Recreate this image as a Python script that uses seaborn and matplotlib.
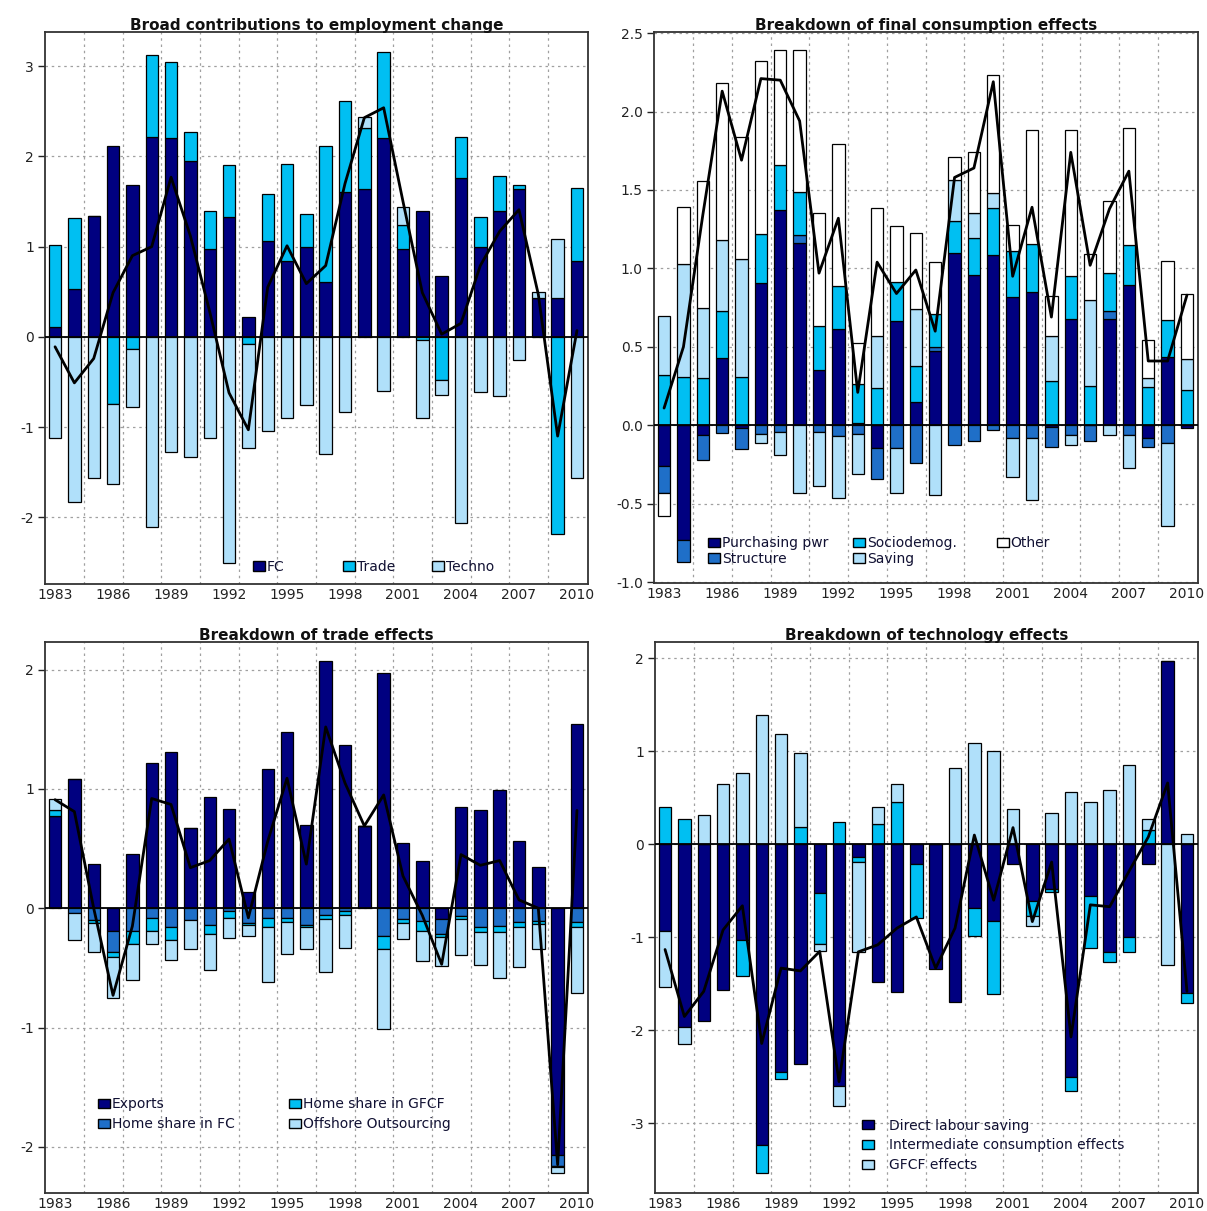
import numpy as np
import pandas as pd
import matplotlib
matplotlib.use("Agg")
import matplotlib.pyplot as plt
import seaborn as sns
from matplotlib.patches import Patch
from matplotlib.legend import Legend

# ---------------- data ----------------
years = list(range(1983, 2011))

# Panel 1: broad contributions to employment change
fc = [0.11, 0.53, 1.34, 2.12, 1.68, 2.22, 2.20, 1.95, 0.97, 1.33, 0.22, 1.06, 0.84, 1.00,
      0.61, 1.61, 1.64, 2.21, 0.97, 1.40, 0.67, 1.76, 1.00, 1.39, 1.64, 0.43, 0.43, 0.84]
trade = [0.91, 0.79, 0.00, -0.74, -0.14, 0.90, 0.85, 0.32, 0.42, 0.58, -0.08, 0.52, 1.08, 0.36,
         1.51, 1.00, 0.68, 0.95, 0.27, -0.04, -0.48, 0.46, 0.33, 0.39, 0.04, 0.00, -2.19, 0.81]
techno = [-1.12, -1.83, -1.56, -0.89, -0.64, -2.11, -1.28, -1.33, -1.12, -2.51, -1.15, -1.04, -0.90, -0.75,
          -1.30, -0.83, 0.12, -0.60, 0.20, -0.86, -0.17, -2.06, -0.61, -0.66, -0.26, 0.07, 0.66, -1.57]
total_emp = [-0.11, -0.51, -0.24, 0.49, 0.90, 1.00, 1.77, 1.12, 0.28, -0.62, -1.03, 0.55, 1.01, 0.59,
             0.79, 1.70, 2.43, 2.54, 1.50, 0.49, 0.03, 0.15, 0.79, 1.17, 1.41, 0.47, -1.10, 0.07]

# Panel 2: breakdown of final consumption effects
purch_pwr = [-0.26, -0.73, -0.06, 0.43, -0.02, 0.91, 1.37, 1.16, 0.355, 0.615, 0.015, -0.147, 0.667, 0.147,
             0.473, 1.098, 0.956, 1.086, 0.816, 0.848, -0.01, 0.68, 0.0, 0.68, 0.897, -0.078, 0.436, -0.017]
structure = [-0.17, -0.14, -0.16, -0.05, -0.13, -0.055, -0.04, 0.05, -0.04, -0.07, -0.055, -0.193, -0.147, -0.238,
             0.025, -0.127, -0.103, -0.03, -0.078, -0.078, -0.13, -0.06, -0.098, 0.05, -0.06, -0.057, -0.115, 0.0]
sociodemog = [0.32, 0.31, 0.30, 0.30, 0.31, 0.31, 0.29, 0.28, 0.28, 0.27, 0.25, 0.24, 0.247, 0.228,
              0.21, 0.203, 0.24, 0.299, 0.294, 0.306, 0.28, 0.27, 0.25, 0.24, 0.25, 0.245, 0.234, 0.228]
saving = [0.38, 0.72, 0.45, 0.45, 0.75, -0.055, -0.15, -0.43, -0.345, -0.395, -0.255, 0.33, -0.287, 0.368,
          -0.446, 0.262, 0.16, 0.093, -0.253, -0.40, 0.29, -0.067, 0.55, -0.06, -0.21, 0.056, -0.527, 0.196]
other = [-0.15, 0.36, 0.81, 1.00, 0.78, 1.10, 0.73, 0.90, 0.72, 0.91, 0.26, 0.815, 0.355, 0.485,
         0.335, 0.147, 0.385, 0.752, 0.17, 0.728, 0.254, 0.93, 0.29, 0.46, 0.748, 0.245, 0.38, 0.416]
total_fc = [0.11, 0.50, 1.34, 2.13, 1.69, 2.21, 2.20, 1.94, 0.97, 1.32, 0.21, 1.04, 0.84, 0.99,
            0.60, 1.58, 1.64, 2.19, 0.95, 1.39, 0.69, 1.74, 1.02, 1.38, 1.62, 0.41, 0.41, 0.83]

# Panel 3: breakdown of trade effects
exports = [0.77, 1.087, 0.37, -0.187, 0.458, 1.22, 1.313, 0.67, 0.929, 0.832, 0.135, 1.168, 1.477, 0.70,
           2.07, 1.371, 0.687, 1.974, 0.548, 0.397, -0.09, 0.848, 0.823, 0.99, 0.565, 0.345, -2.065, 1.548]
home_fc = [0.0, -0.042, -0.097, -0.178, -0.19, -0.08, -0.16, -0.097, -0.139, -0.023, -0.12, -0.08, -0.08, -0.139,
           -0.055, -0.026, 0.0, -0.235, -0.09, -0.106, -0.129, -0.065, -0.161, -0.152, -0.113, -0.106, -0.097, -0.119]
home_gfcf = [0.05, 0.0, -0.023, -0.045, -0.11, -0.11, -0.107, 0.0, -0.077, -0.057, -0.02, -0.08, -0.033, -0.016,
             -0.035, -0.032, 0.0, -0.104, -0.03, -0.081, -0.023, -0.025, -0.042, -0.051, -0.048, -0.023, -0.01, -0.042]
offshore = [0.10, -0.226, -0.245, -0.342, -0.303, -0.11, -0.167, -0.242, -0.30, -0.168, -0.096, -0.459, -0.267, -0.184,
            -0.442, -0.271, 0.0, -0.671, -0.138, -0.258, -0.242, -0.304, -0.271, -0.384, -0.329, -0.21, -0.046, -0.549]
total_trade = [0.91, 0.81, 0.0, -0.73, -0.15, 0.92, 0.87, 0.34, 0.40, 0.58, -0.08, 0.56, 1.09, 0.37,
               1.52, 1.05, 0.69, 0.95, 0.27, -0.06, -0.47, 0.45, 0.36, 0.40, 0.07, 0.0, -2.15, 0.82]

# Panel 4: breakdown of technology effects
direct = [-0.936, -1.959, -1.90, -1.569, -1.027, -3.226, -2.447, -2.356, -0.522, -2.592, -0.141, -1.482, -1.586, -0.211,
          -1.337, -1.694, -0.679, -0.82, -0.211, -0.605, -0.48, -2.501, -0.551, -1.155, -0.998, -0.215, 1.971, -1.598]
intermediate = [0.40, 0.277, 0.0, 0.0, -0.393, -0.306, -0.071, 0.19, -0.55, 0.244, -0.049, 0.224, 0.451, -0.58,
                0.0, 0.0, -0.306, -0.791, 0.0, -0.165, -0.033, -0.153, -0.559, -0.104, -0.157, 0.153, 0.0, -0.104]
gfcf = [-0.592, -0.19, 0.315, 0.646, 0.77, 1.391, 1.188, 0.79, -0.071, -0.215, -0.965, 0.178, 0.195, 0.0,
        0.0, 0.824, 1.085, 1.002, 0.381, -0.112, 0.335, 0.563, 0.46, 0.584, 0.857, 0.124, -1.296, 0.108]
total_tech = [-1.13, -1.85, -1.58, -0.92, -0.66, -2.14, -1.33, -1.36, -1.15, -2.55, -1.155, -1.08, -0.90, -0.78,
              -1.33, -0.90, 0.10, -0.60, 0.18, -0.83, -0.19, -2.07, -0.65, -0.67, -0.29, 0.08, 0.66, -1.58]

# ---------------- style ----------------
NAVY = "#000080"
MID = "#1f6fc8"
CYAN = "#00bff2"
LIGHT = "#b0e0fa"
WHITE = "#ffffff"

sns.set_style("white")
plt.rcParams["font.family"] = ["DejaVu Sans"]

fig = plt.figure(figsize=(12.07, 12.11), dpi=100)

W, H = 1207.0, 1211.0


def make_ax(l, r, t, b):
    return fig.add_axes([l / W, 1 - b / H, (r - l) / W, (b - t) / H])


ax1 = make_ax(45, 588, 32, 584)
ax2 = make_ax(654, 1198, 32, 583)
ax3 = make_ax(45, 588, 642, 1193)
ax4 = make_ax(655, 1198, 642, 1193)


def stacked(ax, series, colors):
    pos = np.zeros(len(years))
    neg = np.zeros(len(years))
    for vals, col in zip(series, colors):
        v = np.asarray(vals, dtype=float)
        bottom = np.where(v >= 0, pos, neg)
        df = pd.DataFrame({"year": years, "val": v})
        sns.barplot(data=df, x="year", y="val", native_scale=True, width=0.64,
                    color=col, saturation=1, edgecolor="black", linewidth=0.9,
                    errorbar=None, bottom=bottom, ax=ax, zorder=3)
        pos = pos + np.where(v > 0, v, 0)
        neg = neg + np.where(v < 0, v, 0)


def line(ax, vals):
    sns.lineplot(x=years, y=vals, color="black", linewidth=2.0, ax=ax, zorder=6)


def style(ax, title, ylim, yticks, yfmt):
    ax.set_xlim(1982.48, 2010.57)
    ax.set_ylim(*ylim)
    ax.set_xlabel("")
    ax.set_ylabel("")
    ax.set_xticks(list(range(1983, 2011, 3)))
    ax.set_xticks([y + 0.5 for y in range(1984, 2009, 2)], minor=True)
    ax.set_yticks(yticks)
    ax.set_yticklabels([yfmt.format(t) for t in yticks])
    ax.tick_params(axis="x", which="both", length=0, labelsize=10, pad=3, colors="#222222")
    ax.tick_params(axis="y", which="major", length=5, width=1, direction="out",
                   labelsize=10, pad=3, colors="#222222", left=True)
    ax.grid(False)
    ax.grid(True, axis="y", which="major", color="#a0a0a0", linestyle=(0, (2, 3)), linewidth=0.9, zorder=0)
    ax.grid(True, axis="x", which="minor", color="#a0a0a0", linestyle=(0, (2, 3)), linewidth=0.9, zorder=0)
    ax.set_axisbelow(True)
    ax.axhline(0, color="black", linewidth=1.3, zorder=5)
    for s in ax.spines.values():
        s.set_visible(True)
        s.set_color("#333333")
        s.set_linewidth(1.3)
    ax.set_title(title, fontsize=11, fontweight="bold", pad=1.5, color="#111111")


def add_leg(ax, labels, colors, x, y, spacing, textpad=0.15):
    handles = [Patch(facecolor=c, edgecolor="black", linewidth=1.0) for c in colors]
    leg = Legend(ax, handles, labels, loc="upper left", bbox_to_anchor=(x, y), frameon=False,
                 fontsize=10, handlelength=0.85, handleheight=0.65, handletextpad=textpad,
                 borderpad=0, borderaxespad=0, labelspacing=spacing)
    for t in leg.get_texts():
        t.set_color("#111133")
    ax.add_artist(leg)


# Panel 1
stacked(ax1, [fc, trade, techno], [NAVY, CYAN, LIGHT])
line(ax1, total_emp)
style(ax1, "Broad contributions to employment change", (-2.74, 3.38), [-2, -1, 0, 1, 2, 3], "{:d}")
add_leg(ax1, ["FC"], [NAVY], 0.383, 0.0435, 0.1)
add_leg(ax1, ["Trade"], [CYAN], 0.549, 0.0435, 0.1)
add_leg(ax1, ["Techno"], [LIGHT], 0.713, 0.0435, 0.1)

# Panel 2
stacked(ax2, [purch_pwr, structure, sociodemog, saving, other], [NAVY, MID, CYAN, LIGHT, WHITE])
line(ax2, total_fc)
style(ax2, "Breakdown of final consumption effects", (-1.005, 2.507),
      [-1.0, -0.5, 0.0, 0.5, 1.0, 1.5, 2.0, 2.5], "{:.1f}")
add_leg(ax2, ["Purchasing pwr", "Structure"], [NAVY, MID], 0.099, 0.085, 0.12)
add_leg(ax2, ["Sociodemog.", "Saving"], [CYAN, LIGHT], 0.366, 0.085, 0.12)
add_leg(ax2, ["Other"], [WHITE], 0.630, 0.085, 0.12)

# Panel 3
stacked(ax3, [exports, home_fc, home_gfcf, offshore], [NAVY, MID, CYAN, LIGHT])
line(ax3, total_trade)
style(ax3, "Breakdown of trade effects", (-2.387, 2.232), [-2, -1, 0, 1, 2], "{:d}")
add_leg(ax3, ["Exports", "Home share in FC"], [NAVY, MID], 0.0976, 0.174, 0.45)
add_leg(ax3, ["Home share in GFCF", "Offshore Outsourcing"], [CYAN, LIGHT], 0.449, 0.174, 0.45)

# Panel 4
stacked(ax4, [direct, intermediate, gfcf], [NAVY, CYAN, LIGHT])
line(ax4, total_tech)
style(ax4, "Breakdown of technology effects", (-3.747, 2.175), [-3, -2, -1, 0, 1, 2], "{:d}")
add_leg(ax4, ["Direct labour saving", "Intermediate consumption effects", "GFCF effects"],
        [NAVY, CYAN, LIGHT], 0.381, 0.135, 0.42, textpad=1.1)

fig.savefig("out.png", dpi=100, facecolor="white")
